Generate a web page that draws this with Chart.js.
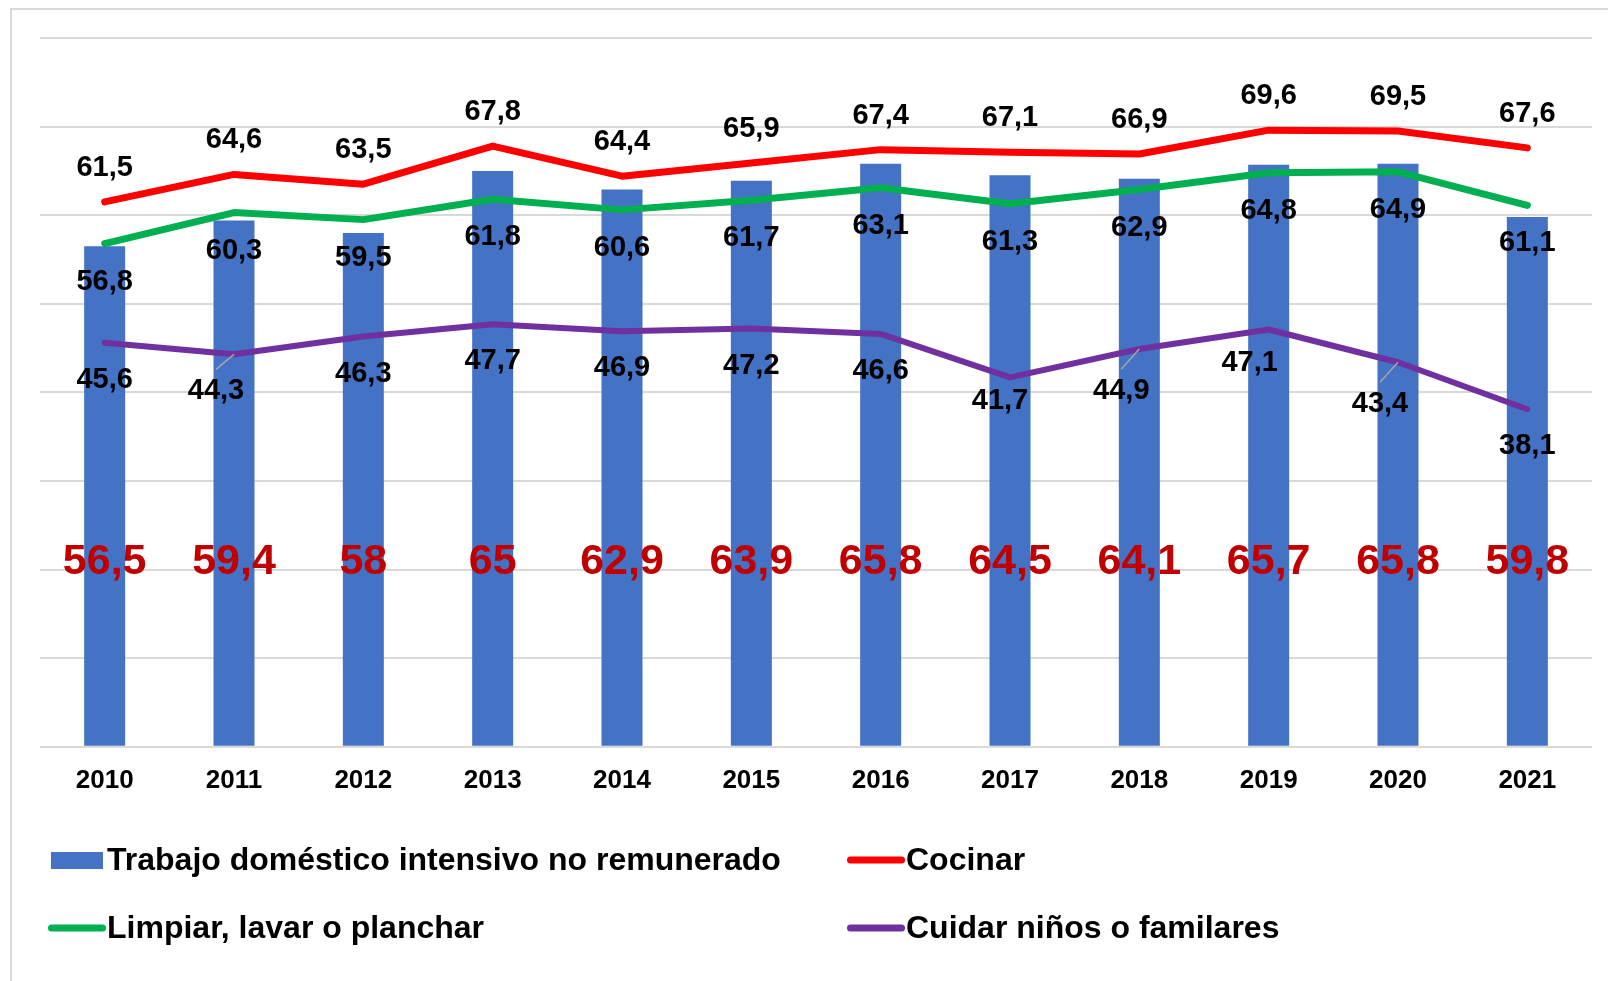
<!DOCTYPE html>
<html>
<head>
<meta charset="utf-8">
<script src="https://cdn.jsdelivr.net/npm/chart.js@4/dist/chart.umd.min.js"></script>
<style>
  html, body { margin: 0; padding: 0; background: #fff; }
  canvas { display: block; }
</style>
</head>
<body>
<canvas id="chart" width="1608" height="981"></canvas>
<script>
const years = ["2010", "2011", "2012", "2013", "2014", "2015", "2016", "2017", "2018", "2019", "2020", "2021"];
const trabajo = [56.5, 59.4, 58, 65, 62.9, 63.9, 65.8, 64.5, 64.1, 65.7, 65.8, 59.8];
const cocinar = [61.5, 64.6, 63.5, 67.8, 64.4, 65.9, 67.4, 67.1, 66.9, 69.6, 69.5, 67.6];
const limpiar = [56.8, 60.3, 59.5, 61.8, 60.6, 61.7, 63.1, 61.3, 62.9, 64.8, 64.9, 61.1];
const cuidar = [45.6, 44.3, 46.3, 47.7, 46.9, 47.2, 46.6, 41.7, 44.9, 47.1, 43.4, 38.1];
const yTicks = [0, 10, 20, 30, 40, 50, 60, 70, 80];

const SANS = "'Liberation Sans', Arial, sans-serif";

// nudged purple labels: [dx, dy, leader line]
const cuidarNudge = {
  2011: [-18, 37, true],
  2017: [-10, 24, false],
  2018: [-18, 42, true],
  2019: [-19, 34, false],
  2020: [-18, 42, true],
};

const fmt = v => String(v).replace(".", ",");

const frame = {
  id: "frame",
  beforeDraw(chart) {
    const ctx = chart.ctx;
    ctx.save();
    ctx.fillStyle = "#fff";
    ctx.fillRect(0, 0, chart.width, chart.height);
    ctx.strokeStyle = "#D9D9D9";
    ctx.lineWidth = 2;
    ctx.strokeRect(11, 9, 1700, 1100);
    ctx.restore();
  },
};

const valueLabels = {
  id: "valueLabels",
  afterDatasetsDraw(chart) {
    const ctx = chart.ctx;
    const yScale = chart.scales.y;
    ctx.save();
    ctx.textAlign = "center";
    ctx.textBaseline = "middle";
    chart.data.datasets.forEach((ds, i) => {
      const meta = chart.getDatasetMeta(i);
      meta.data.forEach((el, j) => {
        const text = fmt(ds.data[j]);
        if (ds.type === "bar") {
          ctx.font = "bold 43px " + SANS;
          ctx.fillStyle = "#C00000";
          ctx.fillText(text, el.x, yScale.getPixelForValue(20.8));
          return;
        }
        let dx = 0, dy = ds.labelDy, leader = false;
        if (ds.nudge && ds.nudge[years[j]]) [dx, dy, leader] = ds.nudge[years[j]];
        const lx = el.x + dx, ly = el.y + dy;
        if (leader) {
          ctx.strokeStyle = "#A6A6A6";
          ctx.lineWidth = 1.5;
          ctx.beginPath();
          ctx.moveTo(el.x, el.y);
          ctx.lineTo(lx, ly - 22);
          ctx.stroke();
        }
        ctx.font = "bold 29px " + SANS;
        ctx.fillStyle = "#000";
        ctx.fillText(text, lx, ly);
      });
    });
    ctx.restore();
  },
};

const legendBox = {
  id: "legendBox",
  afterDraw(chart) {
    const ctx = chart.ctx;
    const cols = [48, 847], rows = [860, 928];
    ctx.save();
    chart.data.datasets.forEach((ds, i) => {
      const x = cols[i % 2], y = rows[Math.floor(i / 2)];
      if (ds.type === "bar") {
        ctx.fillStyle = ds.backgroundColor;
        ctx.fillRect(x + 3, y - 8, 52, 17);
      } else {
        ctx.strokeStyle = ds.borderColor;
        ctx.lineWidth = 7;
        ctx.lineCap = "round";
        ctx.beginPath();
        ctx.moveTo(x + 3.5, y);
        ctx.lineTo(x + 54.5, y);
        ctx.stroke();
      }
      ctx.font = "bold 32px " + SANS;
      ctx.fillStyle = "#000";
      ctx.textBaseline = "middle";
      ctx.fillText(ds.label, x + 59, y + 1);
    });
    ctx.restore();
  },
};

const lineDs = (label, data, color, labelDy, order) => ({
  type: "line",
  label,
  data,
  borderColor: color,
  backgroundColor: color,
  borderWidth: 7,
  borderCapStyle: "round",
  borderJoinStyle: "round",
  pointRadius: 0,
  tension: 0,
  fill: false,
  order,
  labelDy,
});

new Chart(document.getElementById("chart").getContext("2d"), {
  data: {
    labels: years,
    datasets: [
      {
        type: "bar",
        label: "Trabajo doméstico intensivo no remunerado",
        data: trabajo,
        backgroundColor: "#4472C4",
        barPercentage: 0.317,
        categoryPercentage: 1,
        order: 10,
      },
      lineDs("Cocinar", cocinar, "#FF0000", -34, 1),
      lineDs("Limpiar, lavar o planchar", limpiar, "#00B050", 38, 2),
      Object.assign(lineDs("Cuidar niños o familares", cuidar, "#7030A0", 37, 3), { borderWidth: 6, nudge: cuidarNudge }),
    ],
  },
  options: {
    responsive: false,
    animation: false,
    events: [],
    layout: { padding: { left: 40, right: 16, top: 38, bottom: 167 } },
    plugins: {
      legend: { display: false },
      tooltip: { enabled: false },
    },
    scales: {
      x: {
        grid: { display: false, drawTicks: false },
        border: { display: false },
        ticks: { color: "#000", font: { family: SANS, size: 26, weight: "bold" }, padding: 18 },
      },
      y: {
        min: yTicks[0],
        max: yTicks[yTicks.length - 1],
        afterBuildTicks: axis => { axis.ticks = yTicks.map(v => ({ value: v })); },
        ticks: { display: false },
        grid: { color: "#D9D9D9", lineWidth: 2, drawTicks: false },
        border: { display: false },
      },
    },
  },
  plugins: [frame, valueLabels, legendBox],
});
</script>
</body>
</html>
